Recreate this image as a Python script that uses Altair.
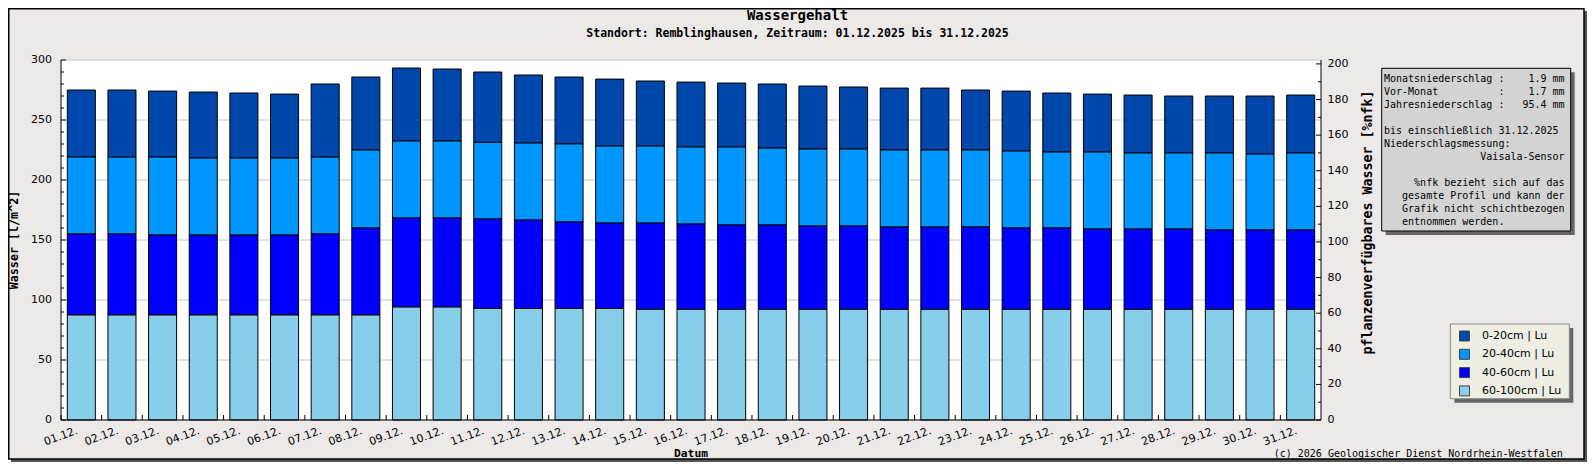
import altair as alt
import pandas as pd

# ---------------- data ----------------
days = ["01.12.", "02.12.", "03.12.", "04.12.", "05.12.", "06.12.", "07.12.", "08.12.",
        "09.12.", "10.12.", "11.12.", "12.12.", "13.12.", "14.12.", "15.12.", "16.12.",
        "17.12.", "18.12.", "19.12.", "20.12.", "21.12.", "22.12.", "23.12.", "24.12.",
        "25.12.", "26.12.", "27.12.", "28.12.", "29.12.", "30.12.", "31.12."]

layer_names = ["0-20cm | Lu", "20-40cm | Lu", "40-60cm | Lu", "60-100cm | Lu"]
layer_colors = ["#0047AB", "#0096FF", "#0000FF", "#87CEEB"]

water_0_20 = [55.9, 55.9, 55.0, 55.0, 54.2, 53.3, 60.9, 60.8, 60.8, 60.0, 58.6, 56.7, 55.8, 55.8,
              54.2, 54.1, 53.3, 53.4, 52.5, 51.7, 51.6, 51.6, 50.0, 50.0, 49.2, 48.3, 48.3, 47.5,
              47.5, 48.4, 48.3]
water_20_40 = [64.1, 64.1, 65.0, 64.2, 64.2, 64.2, 64.1, 65.0, 64.2, 64.2, 63.9, 64.2, 65.0, 64.2,
               64.2, 64.2, 65.0, 64.1, 64.2, 64.2, 64.2, 64.2, 64.2, 64.1, 63.3, 64.2, 63.4, 63.4,
               64.2, 63.3, 64.2]
water_40_60 = [67.5, 67.5, 66.6, 66.6, 66.6, 66.6, 67.5, 72.5, 74.2, 74.2, 74.5, 73.6, 72.0, 71.1,
               71.9, 71.1, 70.3, 70.3, 69.4, 69.4, 68.6, 68.6, 68.6, 67.8, 67.8, 66.9, 66.9, 66.9,
               66.1, 66.1, 66.1]
water_60_100 = [87.5, 87.5, 87.5, 87.5, 87.5, 87.5, 87.5, 87.5, 94.1, 94.1, 93.0, 93.0, 93.0, 93.0,
                92.2, 92.2, 92.2, 92.2, 92.2, 92.2, 92.2, 92.2, 92.2, 92.2, 92.2, 92.2, 92.2, 92.2,
                92.2, 92.2, 92.2]

left_major_ticks = [0, 50, 100, 150, 200, 250, 300]
left_minor_ticks = [10, 20, 30, 40, 60, 70, 80, 90, 110, 120, 130, 140, 160, 170, 180, 190,
                    210, 220, 230, 240, 260, 270, 280, 290]
right_major_ticks = [0, 20, 40, 60, 80, 100, 120, 140, 160, 180, 200]
right_minor_ticks = [10, 30, 50, 70, 90, 110, 130, 150, 170, 190]

info_lines = [
    "Monatsniederschlag :    1.9 mm",
    "Vor-Monat          :    1.7 mm",
    "Jahresniederschlag :   95.4 mm",
    "",
    "bis einschließlich 31.12.2025",
    "Niederschlagsmessung:",
    "                Vaisala-Sensor",
    "",
    "     %nfk bezieht sich auf das",
    "   gesamte Profil und kann der",
    "   Grafik nicht schichtbezogen",
    "   entnommen werden.",
]

title_text = "Wassergehalt"
subtitle_text = "Standort: Remblinghausen, Zeitraum: 01.12.2025 bis 31.12.2025"
y_title_left = "Wasser [l/m^2]"
y_title_right = "pflanzenverfügbares Wasser [%nfk]"
x_title = "Datum"
footer_text = "(c) 2026 Geologischer Dienst Nordrhein-Westfalen"

# ---------------- layout ----------------
W, H = 1260, 360
PL, PT = 53, 52
TOTAL_W, TOTAL_H = 1579, 454
MONO = "DejaVu Sans Mono"
SANS = "DejaVu Sans"
LEFT_DOMAIN = [0, 300]
RIGHT_DOMAIN = [0, 202.2]
NBSP = "\u00a0"
FR = W + 263     # frame right edge (plot coords)
FB = 399         # frame bottom edge (plot coords)
SH = 3           # frame shadow width

series = [water_0_20, water_20_40, water_40_60, water_60_100]
rows = []
for li, (name, vals) in enumerate(zip(layer_names, series)):
    for d, v in zip(days, vals):
        rows.append({"day": d, "layer": name, "value": v, "stack": len(layer_names) - 1 - li})
df = pd.DataFrame(rows)
one = pd.DataFrame({"k": [0]})
days_df = pd.DataFrame({"day": days})


def rect(x, x2, y, y2, **kw):
    return alt.Chart(one).mark_rect(**kw).encode(
        x=alt.value(x), x2=alt.value(x2), y=alt.value(y), y2=alt.value(y2))


def rule(x, x2, y, y2, **kw):
    return alt.Chart(one).mark_rule(**kw).encode(
        x=alt.value(x), x2=alt.value(x2), y=alt.value(y), y2=alt.value(y2))


def text(t, x, y, **kw):
    return alt.Chart(one).mark_text(text=t, **kw).encode(x=alt.value(x), y=alt.value(y))


def yscale(domain):
    return alt.Scale(domain=domain, nice=False, zero=True)


# ---- frame of whole graphic ----
shadow_r = rect(FR, FR + SH, -52 + SH, FB + SH, fill="#555555")
shadow_b = rect(-53 + SH, FR + SH, FB, FB + SH, fill="#555555")
corner_tr = rect(FR, FR + SH, -52, -52 + SH, fill="white")
corner_bl = rect(-53, -53 + SH, FB, FB + SH, fill="white")
frame = rect(-52.25, FR, -51.25, FB, fillOpacity=0, stroke="black", strokeWidth=1.5)

# ---- info box ----
info_shadow = rect(1324.7, 1513.7, 12.3, 175, fill="#666666")
info_box = rect(1320.7, 1509.7, 8.3, 171, fill="#D3D3D3", stroke="black", strokeWidth=1)
CW = 6.02  # advance of a 10px DejaVu Sans Mono glyph
info_marks = []
for i, s in enumerate(info_lines):
    if not s.strip():
        continue
    lead = len(s) - len(s.lstrip(" "))
    info_marks.append(text(s.strip().replace(" ", NBSP), 1323 + lead * CW, 19.3 + 13 * i,
                           align="left", baseline="middle", font=MONO, fontSize=10,
                           color="black"))

# ---- legend box ----
leg_shadow = rect(1393.3, 1512.3, 268, 342.7, fill="#666666")
leg_box = rect(1389.3, 1508.3, 264, 338.7, fill="#EEEEE4", stroke="#888888", strokeWidth=1)

# ---- gridlines ----
grid = alt.Chart(pd.DataFrame({"t": left_major_ticks})).mark_rule(
    color="#C8C8C8", strokeWidth=1).encode(
    y=alt.Y("t:Q", scale=yscale(LEFT_DOMAIN), axis=None), x=alt.value(0), x2=alt.value(W))

# ---- bars ----
legend = alt.Legend(orient="none", legendX=1398, legendY=270.5, title=None, padding=0,
                    symbolType="square", symbolSize=100, symbolStrokeColor="#444444",
                    symbolStrokeWidth=1, labelFont=SANS, labelFontSize=11, labelColor="black",
                    labelOffset=12, rowPadding=3.3, direction="vertical")

bars = alt.Chart(df).mark_bar(stroke="black", strokeWidth=1).encode(
    x=alt.X("day:N", sort=days, scale=alt.Scale(paddingInner=0.31, paddingOuter=0.155),
            axis=None),
    y=alt.Y("value:Q", stack="zero", scale=yscale(LEFT_DOMAIN), axis=None),
    color=alt.Color("layer:N", scale=alt.Scale(domain=layer_names, range=layer_colors),
                    legend=legend),
    order=alt.Order("stack:Q", sort="ascending"),
)


# ---- ticks ----
def tick_rules(vals, x0, x1, domain):
    return alt.Chart(pd.DataFrame({"t": vals})).mark_rule(color="black", strokeWidth=1).encode(
        y=alt.Y("t:Q", scale=yscale(domain), axis=None), x=alt.value(x0), x2=alt.value(x1))


left_major = tick_rules(left_major_ticks, 0, 5, LEFT_DOMAIN)
left_minor = tick_rules(left_minor_ticks, 0, 3, LEFT_DOMAIN)
right_major = tick_rules(right_major_ticks, W - 5, W, RIGHT_DOMAIN)
right_minor = tick_rules(right_minor_ticks, W - 3, W, RIGHT_DOMAIN)
bottom_ticks = alt.Chart(days_df).mark_rule(color="black", xOffset=-6.3).encode(
    x=alt.X("day:N", sort=days, bandPosition=0, axis=None),
    y=alt.value(H - 5), y2=alt.value(H))

# ---- axis lines ----
left_line = rule(0, 0, 0, H, color="black", strokeWidth=1)
right_line = rule(W, W, 0, H, color="black", strokeWidth=1)
bottom_line = rule(0, W, H, H, color="black", strokeWidth=1)

# ---- tick labels ----
left_labels = alt.Chart(pd.DataFrame({"t": left_major_ticks})).mark_text(
    align="right", baseline="middle", font=SANS, fontSize=11, color="black").encode(
    y=alt.Y("t:Q", scale=yscale(LEFT_DOMAIN), axis=None), x=alt.value(-9),
    text=alt.Text("t:Q", format="d"))
right_labels = alt.Chart(pd.DataFrame({"t": right_major_ticks})).mark_text(
    align="left", baseline="middle", font=SANS, fontSize=11, color="black").encode(
    y=alt.Y("t:Q", scale=yscale(RIGHT_DOMAIN), axis=None), x=alt.value(W + 6.6),
    text=alt.Text("t:Q", format="d"))
x_labels = alt.Chart(days_df).mark_text(
    angle=340, align="right", baseline="top", font=SANS, fontSize=11, color="black",
    xOffset=-6).encode(
    x=alt.X("day:N", sort=days, axis=None), y=alt.value(H + 5), text="day:N")

# ---- titles ----
title_mark = text(title_text, 736.5, -44, align="center", baseline="middle", font=MONO,
                  fontSize=14, fontWeight="bold", color="black")
subtitle_mark = text(subtitle_text, 736.5, -26.5, align="center", baseline="middle", font=MONO,
                     fontSize=11.5, fontWeight="bold", color="black")
ytitle_l = text(y_title_left, -47, 180, angle=270, align="center", baseline="middle",
                font=MONO, fontSize=11.7, fontWeight="bold", color="black")
ytitle_r = text(y_title_right, W + 46.6, 162.5, angle=270, align="center", baseline="middle",
                font=MONO, fontSize=13.3, fontWeight="bold", color="black")
xtitle = text(x_title, 630, H + 33.5, align="center", baseline="middle", font=MONO,
              fontSize=11.3, fontWeight="bold", color="black")
footer_mark = text(footer_text, 1501.7, 393.5, align="right", baseline="middle", font=MONO,
                   fontSize=10, color="black")

chart = alt.layer(
    shadow_r, shadow_b, corner_tr, corner_bl, frame,
    info_shadow, info_box, leg_shadow, leg_box,
    grid, bars, left_major, left_minor, right_major, right_minor, bottom_ticks,
    left_line, right_line, bottom_line,
    left_labels, right_labels, x_labels,
    title_mark, subtitle_mark, ytitle_l, ytitle_r, xtitle, footer_mark,
    *info_marks,
).resolve_scale(y="independent").properties(
    width=W, height=H,
    padding={"left": PL, "top": PT, "right": TOTAL_W - PL - W, "bottom": TOTAL_H - PT - H},
    autosize=alt.AutoSizeParams(type="none"),
).configure(background="#ECE9E8").configure_view(fill="white", stroke="transparent",
                                                 strokeWidth=0)

chart.save("out.html", embed_options={"renderer": "svg", "actions": False})
